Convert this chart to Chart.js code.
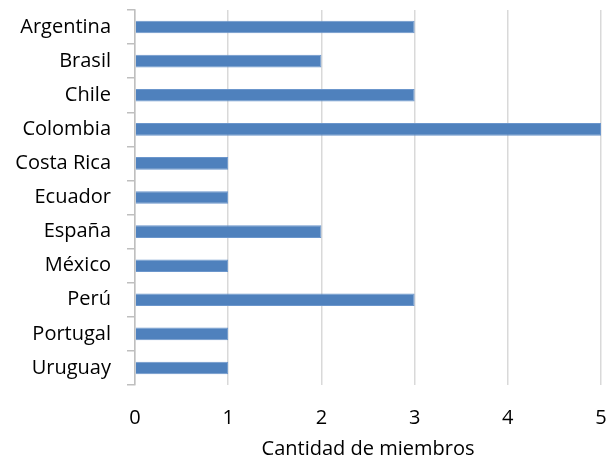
<!DOCTYPE html>
<html>
<head>
<meta charset="utf-8">
<script src="https://cdn.jsdelivr.net/npm/chart.js@4"></script>
<style>
  body { margin: 0; background: #fff; }
  #wrap { width: 613px; height: 464px; }
</style>
</head>
<body>
<div id="wrap"><canvas id="chart"></canvas></div>
<script>
const countries = ['Argentina', 'Brasil', 'Chile', 'Colombia', 'Costa Rica', 'Ecuador', 'España', 'México', 'Perú', 'Portugal', 'Uruguay'];
const members = [3, 2, 3, 5, 1, 1, 2, 1, 3, 1, 1];
const xTicks = [0, 1, 2, 3, 4, 5];
const xTitle = 'Cantidad de miembros';

const font = { family: '"Open Sans", sans-serif', size: 20, lineHeight: 1.1 };

new Chart(document.getElementById('chart'), {
    type: 'bar',
    data: {
        labels: countries,
        datasets: [{
            data: members,
            backgroundColor: '#4f81bd',
            borderColor: '#6b96cc',
            borderWidth: 1,
            categoryPercentage: 1,
            barPercentage: 0.37
        }]
    },
    options: {
        indexAxis: 'y',
        responsive: true,
        maintainAspectRatio: false,
        animation: false,
        layout: { padding: { top: 10, right: 12, left: 0, bottom: 0 } },
        plugins: { legend: { display: false }, tooltip: { enabled: false } },
        scales: {
            x: {
                min: 0, max: 5,
                afterBuildTicks: s => { s.ticks = xTicks.map(v => ({ value: v })); },
                afterFit: s => { s.height = 79; s.paddingLeft = 0; s.paddingRight = 0; },
                grid: { color: '#d9d9d9', lineWidth: 1.5, drawTicks: false },
                border: { display: false },
                ticks: { color: '#000', font: font, padding: 22 },
                title: { display: true, text: xTitle, color: '#000', font: font, padding: { top: 14 } }
            },
            y: {
                afterFit: s => { s.width = 135; s.paddingTop = 0; s.paddingBottom = 0; },
                grid: { drawOnChartArea: false, color: '#bfbfbf', tickLength: 8, lineWidth: 1.5 },
                border: { color: '#bfbfbf', width: 1.5 },
                ticks: { color: '#000', font: font, padding: 16 }
            }
        }
    }
});
</script>
</body>
</html>
